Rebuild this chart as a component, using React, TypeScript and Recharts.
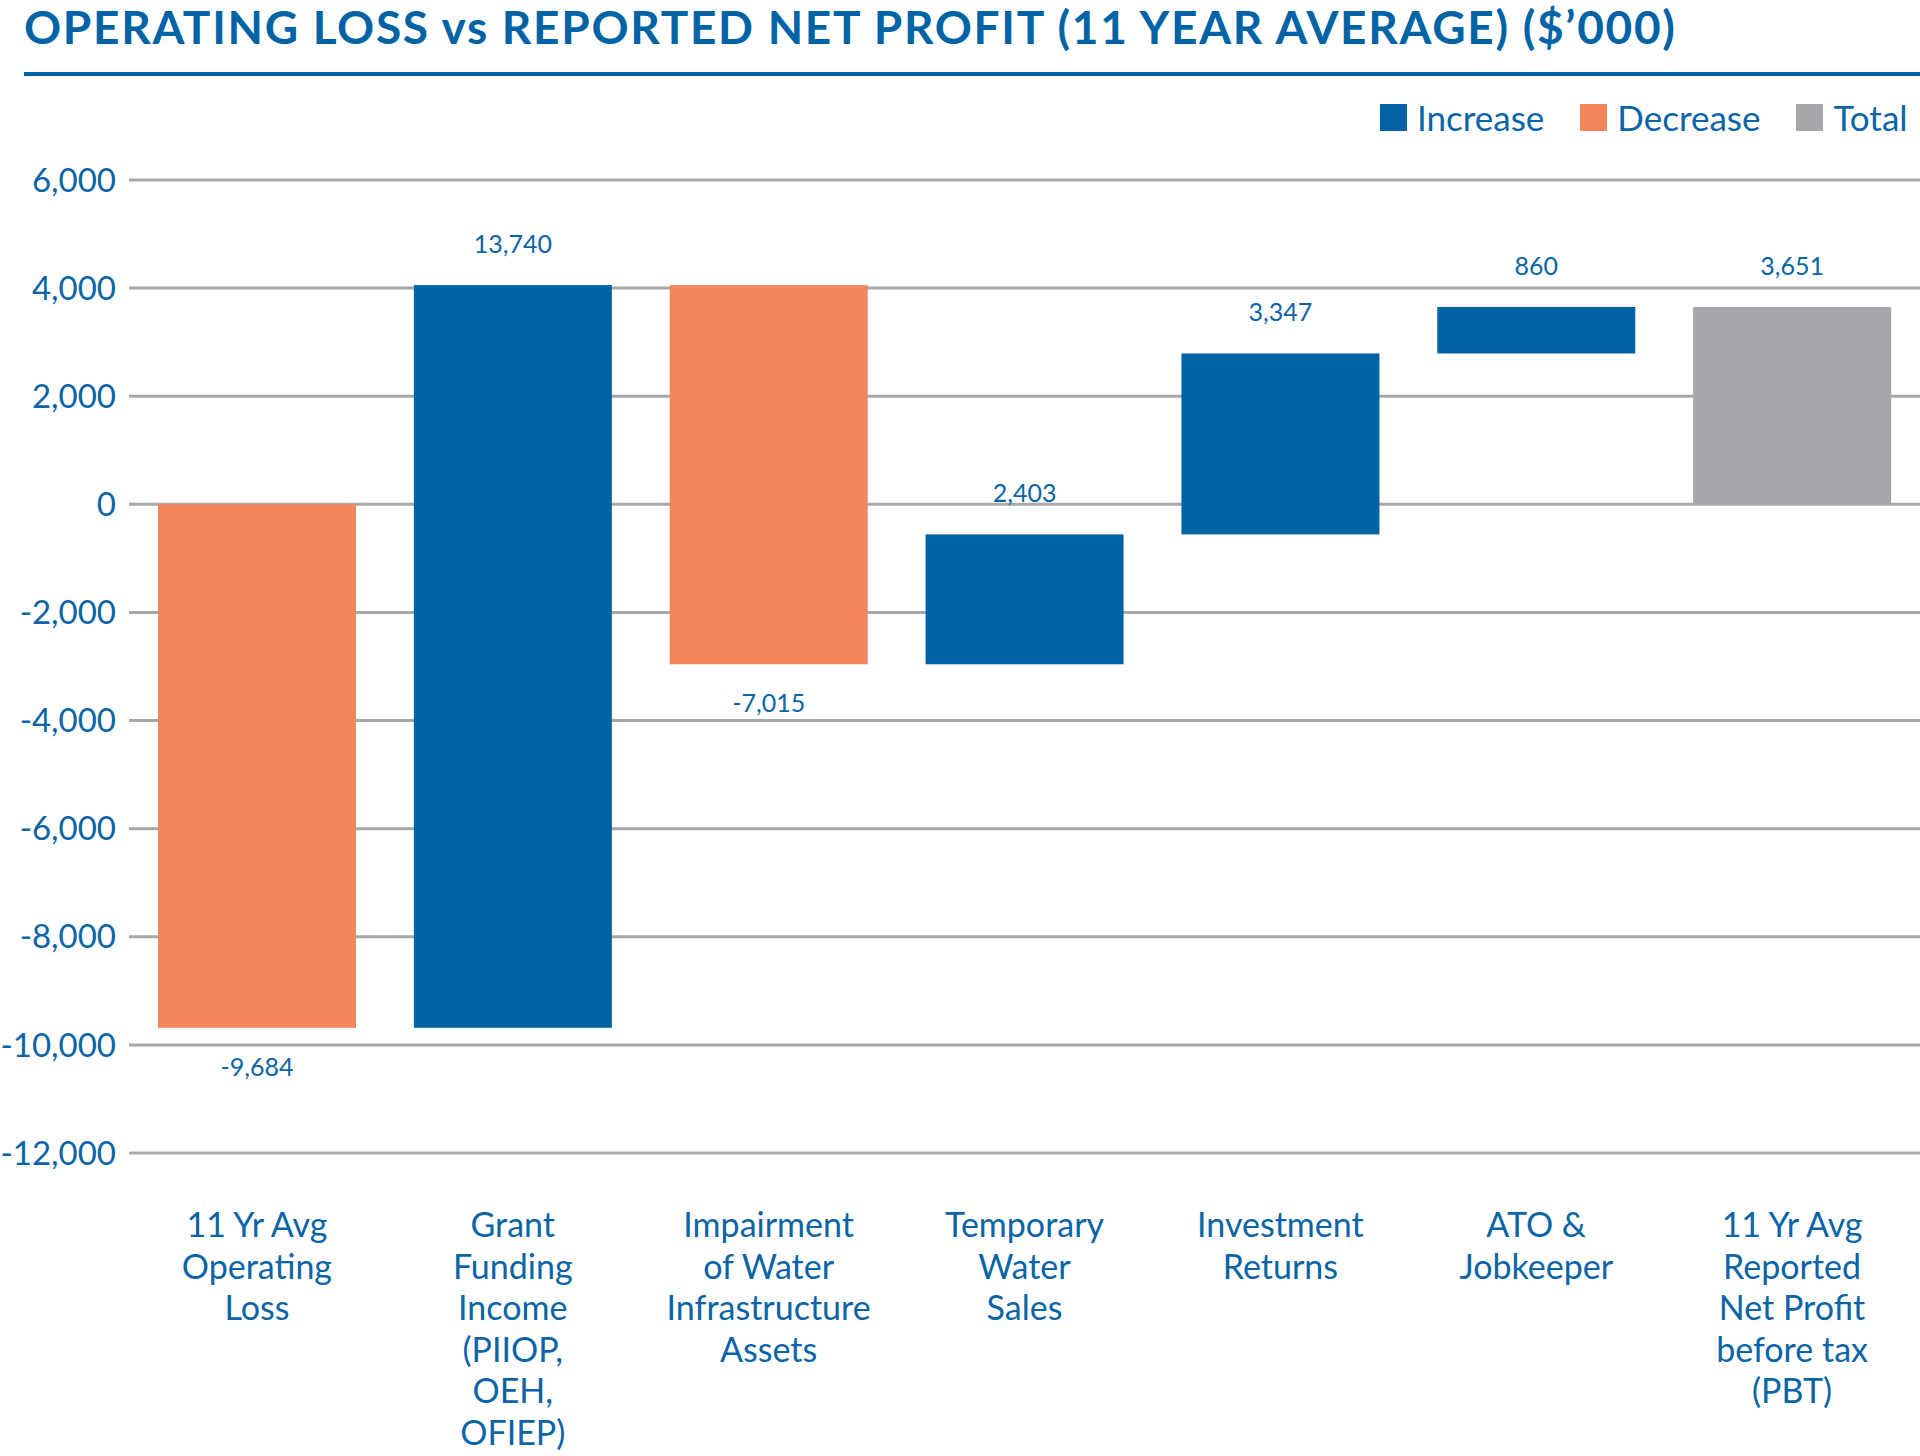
import { BarChart, Bar, XAxis, YAxis, CartesianGrid, Cell } from 'recharts'

const categories = [
  '11 Yr Avg\nOperating\nLoss',
  'Grant\nFunding\nIncome\n(PIIOP,\nOEH,\nOFIEP)',
  'Impairment\nof Water\nInfrastructure\nAssets',
  'Temporary\nWater\nSales',
  'Investment\nReturns',
  'ATO &\nJobkeeper',
  '11 Yr Avg\nReported\nNet Profit\nbefore tax\n(PBT)',
]
const changes = [-9684, 13740, -7015, 2403, 3347, 860, 3651]
const kinds = ['decrease', 'increase', 'decrease', 'increase', 'increase', 'increase', 'total']
const yTicks = [6000, 4000, 2000, 0, -2000, -4000, -6000, -8000, -10000, -12000]
const legendItems = [
  { key: 'increase', label: 'Increase' },
  { key: 'decrease', label: 'Decrease' },
  { key: 'total', label: 'Total' },
]

const COLORS: Record<string, string> = {
  increase: '#0064a4',
  decrease: '#f4865c',
  total: '#a6a7aa',
}
const TEXT = '#0a64a6'
const FONT = 'Lato, "Noto Sans", sans-serif'

// build waterfall ranges from the step changes
let running = 0
const data = categories.map((name, i) => {
  const kind = kinds[i]
  let range: [number, number]
  if (kind === 'total') {
    range = [0, changes[i]]
  } else {
    const start = running
    running += changes[i]
    range = [Math.min(start, running), Math.max(start, running)]
  }
  return { name, range, value: changes[i], kind }
})

const fmt = (v: number) => v.toLocaleString('en-US')

function BarWithLabel(props: any) {
  const { x, y, width, height, payload } = props
  const top = Math.min(y, y + height)
  const h = Math.abs(height)
  const below = payload.value < 0
  return (
    <g>
      <rect x={x} y={top} width={width} height={h} fill={COLORS[payload.kind]} />
      <text
        x={x + width / 2}
        y={below ? top + h + 48 : top - 32}
        textAnchor="middle"
        fill={TEXT}
        fontSize={25}
        fontFamily={FONT}
      >
        {fmt(payload.value)}
      </text>
    </g>
  )
}

function CategoryTick(props: any) {
  const { x, y, payload } = props
  const lines = String(payload.value).split('\n')
  return (
    <text x={x} y={y} textAnchor="middle" fill={TEXT} fontSize={34} fontFamily={FONT}>
      {lines.map((line, i) => (
        <tspan key={i} x={x} dy={i === 0 ? 84 : 41.6}>
          {line}
        </tspan>
      ))}
    </text>
  )
}

export default function App() {
  return (
    <div style={{ position: 'absolute', left: 0, top: 0, width: 1920, height: 1456, background: '#fff', overflow: 'hidden', fontFamily: FONT }}>
      <div style={{ position: 'absolute', left: 24, top: 4, fontSize: 46, fontWeight: 700, letterSpacing: 1.7, color: '#0063a6', lineHeight: 1, whiteSpace: 'nowrap' }}>
        OPERATING LOSS vs REPORTED NET PROFIT (11 YEAR AVERAGE) ($’000)
      </div>
      <div style={{ position: 'absolute', left: 24, top: 72, width: 1896, height: 4, background: '#0063a6' }} />
      <div style={{ position: 'absolute', left: 1380, top: 100, display: 'flex', alignItems: 'center', whiteSpace: 'nowrap' }}>
        {legendItems.map((item) => (
          <div key={item.key} style={{ display: 'flex', alignItems: 'center', marginRight: 36 }}>
            <div style={{ width: 27, height: 27, background: COLORS[item.key], marginRight: 10 }} />
            <span style={{ fontSize: 35, color: TEXT, lineHeight: 1 }}>{item.label}</span>
          </div>
        ))}
      </div>
      <div style={{ position: 'absolute', left: 0, top: 0 }}>
        <BarChart width={1920} height={1456} data={data} margin={{ top: 180, right: 0, bottom: 0, left: 0 }}>
          <CartesianGrid vertical={false} stroke="#a8a8a8" strokeWidth={3} />
          <XAxis
            dataKey="name"
            axisLine={false}
            tickLine={false}
            tickSize={0}
            tickMargin={0}
            height={303}
            interval={0}
            tick={<CategoryTick />}
          />
          <YAxis
            domain={[-12000, 6000]}
            ticks={yTicks}
            width={129}
            axisLine={false}
            tickLine={false}
            tickSize={0}
            tickMargin={13}
            tickFormatter={fmt}
            tick={{ fill: TEXT, fontSize: 33, fontFamily: FONT }}
          />
          <Bar dataKey="range" barSize={198} isAnimationActive={false} shape={<BarWithLabel />}>
            {data.map((d) => (
              <Cell key={d.name} fill={COLORS[d.kind]} />
            ))}
          </Bar>
        </BarChart>
      </div>
    </div>
  )
}
